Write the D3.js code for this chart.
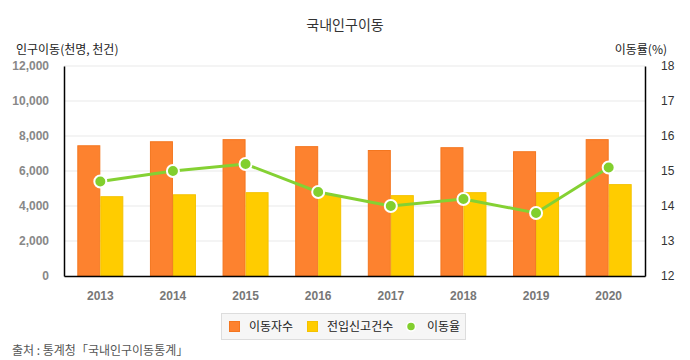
<!DOCTYPE html>
<html><head><meta charset="utf-8">
<script src="https://cdn.jsdelivr.net/npm/d3@7"></script>
<style>body{margin:0;background:#fff;font-family:"Noto Sans CJK KR","Noto Sans",sans-serif;}</style>
</head><body>
<svg id="c" width="690" height="360"></svg>
<script>
const years = ["2013","2014","2015","2016","2017","2018","2019","2020"];
const movers = [7470, 7700, 7820, 7420, 7200, 7360, 7130, 7820];
const reports = [4560, 4670, 4790, 4630, 4620, 4790, 4790, 5250];
const rate = [14.7, 15.0, 15.2, 14.4, 14.0, 14.2, 13.8, 15.1];
const leftTicks = [0, 2000, 4000, 6000, 8000, 10000, 12000];
const rightTicks = [12, 13, 14, 15, 16, 17, 18];

const svg = d3.select("#c");
const font = '"Noto Sans CJK KR","Noto Sans",sans-serif';
const numFont = '"Liberation Sans",Arial,sans-serif';
const L = 64, R = 645, T = 66, B = 276;
const x = d3.scaleBand().domain(years).range([L, R]);
const yL = d3.scaleLinear().domain([0, 12000]).range([B, T]);
const yR = d3.scaleLinear().domain([12, 18]).range([B, T]);

// grid
svg.append("g").selectAll("line").data(leftTicks.slice(1)).join("line")
  .attr("x1", L).attr("x2", R).attr("y1", d => yL(d)).attr("y2", d => yL(d))
  .attr("stroke", "#e9e9e9").attr("stroke-width", 1);

// bars
const bw = 23;
svg.append("g").selectAll("rect").data(years).join("rect")
  .attr("x", d => x(d) + x.bandwidth()/2 - bw + 0.5)
  .attr("y", (d,i) => yL(movers[i]) + 0.5)
  .attr("width", bw - 1).attr("height", (d,i) => B - yL(movers[i]) - 0.5)
  .attr("fill", "#FD822F").attr("stroke", "#F4761F").attr("stroke-width", 1);
svg.append("g").selectAll("rect").data(years).join("rect")
  .attr("x", d => x(d) + x.bandwidth()/2 + 0.5)
  .attr("y", (d,i) => yL(reports[i]) + 0.5)
  .attr("width", bw - 1).attr("height", (d,i) => B - yL(reports[i]) - 0.5)
  .attr("fill", "#FFCC00").attr("stroke", "#F4C200").attr("stroke-width", 1);

// axes
const axL = svg.append("g").attr("transform", `translate(${L},0)`)
  .call(d3.axisLeft(yL).tickValues(leftTicks).tickSize(0).tickPadding(15).tickFormat(d3.format(",")));
axL.select(".domain").attr("stroke", "#000").attr("stroke-width", 1.5);
axL.selectAll("text").attr("font-family", numFont).attr("font-size", 12).attr("font-weight", "bold").attr("fill", "#888");

const axR = svg.append("g").attr("transform", `translate(${R},0)`)
  .call(d3.axisRight(yR).tickValues(rightTicks).tickSize(0).tickPadding(16).tickFormat(d3.format("d")));
axR.select(".domain").attr("stroke", "#000").attr("stroke-width", 1.5);
axR.selectAll("text").attr("font-family", numFont).attr("font-size", 12).attr("fill", "#333");

const axB = svg.append("g").attr("transform", `translate(0,${B})`)
  .call(d3.axisBottom(x).tickSize(0).tickPadding(15));
axB.select(".domain").attr("stroke", "#000").attr("stroke-width", 1.5);
axB.selectAll("text").attr("font-family", numFont).attr("font-size", 12).attr("font-weight", "bold").attr("fill", "#777");

// line
const line = d3.line().x((d,i) => x(years[i]) + x.bandwidth()/2).y(d => yR(d));
svg.append("path").datum(rate).attr("d", line).attr("fill", "none")
  .attr("stroke", "#84D133").attr("stroke-width", 3);
svg.append("g").selectAll("circle").data(rate).join("circle")
  .attr("cx", (d,i) => x(years[i]) + x.bandwidth()/2).attr("cy", d => yR(d))
  .attr("r", 6).attr("fill", "#82CF2E").attr("stroke", "#fff").attr("stroke-width", 2);

// titles
svg.append("text").attr("x", 345).attr("y", 30).attr("text-anchor", "middle")
  .attr("font-family", font).attr("font-size", 14).attr("fill", "#333").text("국내인구이동");
svg.append("text").attr("x", 16).attr("y", 54)
  .attr("font-family", font).attr("font-size", 12).attr("fill", "#222").text("인구이동(천명, 천건)");
svg.append("text").attr("x", 667).attr("y", 54).attr("text-anchor", "end")
  .attr("font-family", font).attr("font-size", 12).attr("fill", "#222").text("이동률(%)");

// legend
const lg = svg.append("g");
lg.append("rect").attr("x", 221.5).attr("y", 313.5).attr("width", 244).attr("height", 26)
  .attr("fill", "#f6f6f6").attr("stroke", "#ddd");
const legItems = [
  {t: "이동자수", c: "#FD822F", s: "#F4761F", x: 229, type: "rect"},
  {t: "전입신고건수", c: "#FFCC00", s: "#F4C200", x: 307, type: "rect"},
  {t: "이동율", c: "#82CF2E", x: 406, type: "circle"}
];
legItems.forEach(it => {
  if (it.type === "rect") {
    lg.append("rect").attr("x", it.x + 0.5).attr("y", 321.5).attr("width", 10).attr("height", 10)
      .attr("fill", it.c).attr("stroke", it.s);
    lg.append("text").attr("x", it.x + 20).attr("y", 331).attr("font-family", font)
      .attr("font-size", 12).attr("fill", "#222").text(it.t);
  } else {
    lg.append("circle").attr("cx", it.x + 5).attr("cy", 326.5).attr("r", 4.5)
      .attr("fill", it.c).attr("stroke", "#fff").attr("stroke-width", 1.5);
    lg.append("text").attr("x", it.x + 21).attr("y", 331).attr("font-family", font)
      .attr("font-size", 12).attr("fill", "#222").text(it.t);
  }
});

svg.append("text").attr("x", 12).attr("y", 355).attr("font-family", font)
  .attr("font-size", 12).attr("fill", "#555").text("출처 : 통계청「국내인구이동통계」");
</script>
</body></html>
